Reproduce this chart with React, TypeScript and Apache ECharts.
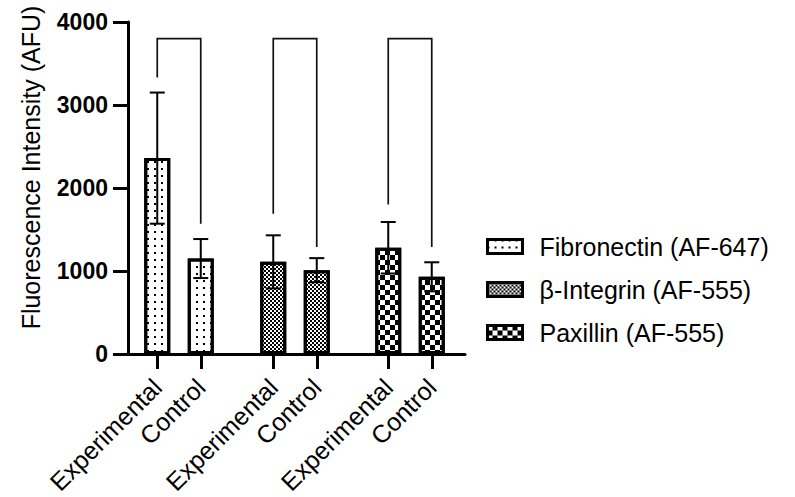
import React, { useEffect, useRef } from "react";
import * as echarts from "echarts";

const categories = ["Experimental", "Control"];
const proteins = ["Fibronectin (AF-647)", "β-Integrin (AF-555)", "Paxillin (AF-555)"];
const fibronectinMean = [2360, 1150];
const fibronectinSD = [790, 235];
const betaIntegrinMean = [1110, 1010];
const betaIntegrinSD = [320, 145];
const paxillinMean = [1280, 930];
const paxillinSD = [310, 175];
const bracketTop = [3800, 3800, 3800];
const bracketLeftEnd = [3330, 1690, 1800];
const bracketRightEnd = [1570, 1290, 1290];
const yTicks = [0, 1000, 2000, 3000, 4000];

const FONT = "'Liberation Sans', Arial, Helvetica, sans-serif";

export default function App() {
  const ref = useRef<HTMLDivElement>(null);
  useEffect(() => {
    if (!ref.current) return;
    const chart = echarts.init(ref.current, null, { renderer: "svg" });
    const means = [fibronectinMean, betaIntegrinMean, paxillinMean];
    const sds = [fibronectinSD, betaIntegrinSD, paxillinSD];
    const decals: any[] = [
      { symbol: "rect", symbolSize: 1, color: "#000", dashArrayX: [2, 5], dashArrayY: [2, 5] },
      { symbol: "rect", symbolSize: 1, color: "#000", dashArrayX: [[2, 2], [0, 2, 2, 0]], dashArrayY: [2, 0] },
      { symbol: "rect", symbolSize: 1, color: "#000", dashArrayX: [[5, 5], [0, 5, 5, 0]], dashArrayY: [5, 0] },
    ];
    const gridLefts = [135.5, 251.5, 366.5];
    const grids: any[] = [{ left: 128, top: 22, width: 337, height: 332, outerBoundsMode: "none", containLabel: false }];
    gridLefts.forEach((l) =>
      grids.push({ left: l, top: 22, width: 87, height: 332, outerBoundsMode: "none", containLabel: false })
    );

    const xAxes: any[] = [
      {
        type: "value", gridIndex: 0, min: 0, max: 1,
        axisLine: { show: true, lineStyle: { color: "#000", width: 3 } },
        axisTick: { show: false }, axisLabel: { show: false }, splitLine: { show: false },
      },
    ];
    const yAxes: any[] = [
      {
        type: "value", gridIndex: 0, min: yTicks[0], max: yTicks[yTicks.length - 1], interval: 1000,
        axisLine: { show: true, lineStyle: { color: "#000", width: 3 } },
        axisTick: { show: true, length: 15, lineStyle: { color: "#000", width: 3 } },
        axisLabel: {
          color: "#000", fontSize: 23, fontWeight: "bold", fontFamily: FONT, margin: 20,
          formatter: (v: number) => String(v),
        },
        splitLine: { show: false },
      },
    ];
    const series: any[] = [];
    for (let g = 0; g < 3; g++) {
      const gi = g + 1;
      xAxes.push({
        type: "category", gridIndex: gi, data: categories, boundaryGap: true,
        axisLine: { show: false },
        axisTick: { show: true, alignWithLabel: true, length: 15, lineStyle: { color: "#000", width: 3 } },
        axisLabel: { rotate: 45, color: "#000", fontSize: 25, fontFamily: FONT, margin: 29, interval: 0 },
        splitLine: { show: false },
      });
      yAxes.push({ type: "value", gridIndex: gi, min: 0, max: 4000, show: false });
      series.push({
        name: proteins[g], type: "bar", xAxisIndex: gi, yAxisIndex: gi, barWidth: 26,
        data: means[g],
        itemStyle: { color: "#fff", borderColor: "#000", borderWidth: 3, decal: decals[g] },
        z: 2,
      });
      series.push({
        type: "custom", xAxisIndex: gi, yAxisIndex: gi, z: 5,
        data: means[g].map((m, i) => [i, m - sds[g][i], m + sds[g][i]]),
        renderItem: (params: any, api: any) => {
          const x = api.value(0);
          const top = api.coord([x, api.value(2)]);
          const bot = api.coord([x, api.value(1)]);
          const hw = 7.5;
          const st = { stroke: "#000", lineWidth: 2 };
          return {
            type: "group",
            children: [
              { type: "line", shape: { x1: top[0], y1: top[1], x2: bot[0], y2: bot[1] }, style: st },
              { type: "line", shape: { x1: top[0] - hw, y1: top[1], x2: top[0] + hw, y2: top[1] }, style: st },
              { type: "line", shape: { x1: bot[0] - hw, y1: bot[1], x2: bot[0] + hw, y2: bot[1] }, style: st },
            ],
          };
        },
      });
      series.push({
        type: "custom", xAxisIndex: gi, yAxisIndex: gi, z: 5,
        data: [[0, bracketLeftEnd[g], 1, bracketRightEnd[g], bracketTop[g]]],
        renderItem: (params: any, api: any) => {
          const a = api.coord([api.value(0), api.value(1)]);
          const b = api.coord([api.value(0), api.value(4)]);
          const c = api.coord([api.value(2), api.value(4)]);
          const d = api.coord([api.value(2), api.value(3)]);
          return {
            type: "polyline",
            shape: { points: [a, b, c, d] },
            style: { stroke: "#111", lineWidth: 1.7, fill: null },
          };
        },
      });
    }

    chart.setOption({
      animation: false,
      backgroundColor: "#fff",
      grid: grids,
      xAxis: xAxes,
      yAxis: yAxes,
      series,
      legend: {
        data: proteins,
        orient: "vertical",
        left: 481,
        top: 229,
        icon: "rect",
        itemWidth: 35,
        itemHeight: 14,
        itemGap: 18,
        selectedMode: false,
        itemStyle: { borderColor: "#000", borderWidth: 3 },
        textStyle: { color: "#000", fontSize: 25, fontFamily: FONT, padding: [0, 0, 0, 12] },
      },
      graphic: [
        {
          type: "text", x: 31, y: 167.5, rotation: Math.PI / 2,
          style: {
            text: "Fluorescence Intensity (AFU)", fontSize: 25, fontFamily: FONT, fill: "#000",
            align: "center", verticalAlign: "middle",
          },
        },
      ],
    });
    return () => chart.dispose();
  }, []);
  return <div ref={ref} style={{ position: "absolute", left: 0, top: 0, width: 795, height: 497 }} />;
}
